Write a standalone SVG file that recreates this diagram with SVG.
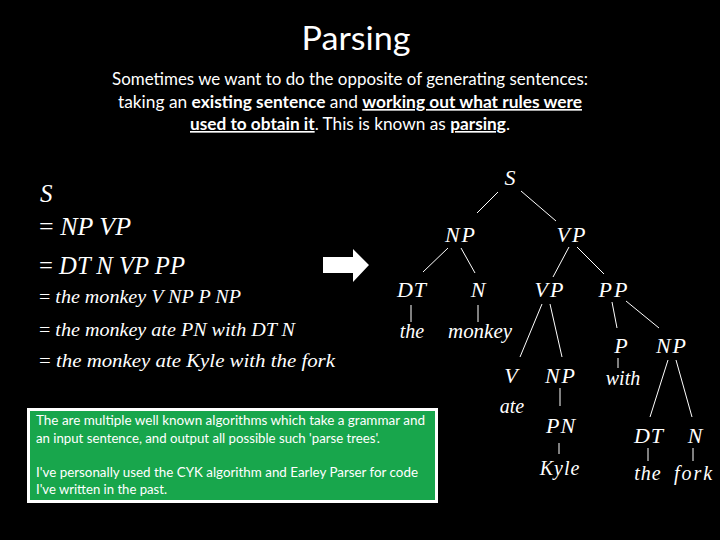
<svg xmlns="http://www.w3.org/2000/svg" width="720" height="540" viewBox="0 0 720 540">
<style>
.t{fill:#fff;font-family:Lato,"Open Sans","Liberation Sans",sans-serif}
.b{font-weight:bold}
.u{text-decoration:underline}
.m{fill:#fff;font-family:"Liberation Serif","DejaVu Serif",serif;font-style:italic}
.n{fill:#fff;font-family:"Liberation Serif","DejaVu Serif",serif;font-style:italic;font-size:22px;text-anchor:middle}
.w{fill:#fff;font-family:"Liberation Serif","DejaVu Serif",serif;font-style:italic;font-size:20px;text-anchor:middle}
.c line{stroke:#fff;stroke-width:1}
.g{fill:#fff;font-family:Lato,"Open Sans","Liberation Sans",sans-serif;font-size:12.5px}
</style>
<rect width="720" height="540" fill="#000"/>
<g id="title">
<text class="t" x="356" y="50" font-size="32" text-anchor="middle" textLength="109" lengthAdjust="spacingAndGlyphs">Parsing</text>
</g>
<g id="intro">
<text class="t" x="112" y="85" font-size="16.5" textLength="476" lengthAdjust="spacingAndGlyphs">Sometimes we want to do the opposite of generating sentences:</text>
<text class="t" x="118" y="108" font-size="16.5" textLength="464" lengthAdjust="spacingAndGlyphs" xml:space="preserve">taking an <tspan class="b">existing sentence</tspan> and <tspan class="b u">working out what rules were</tspan></text>
<text class="t" x="190" y="130" font-size="16.5" textLength="320" lengthAdjust="spacingAndGlyphs" xml:space="preserve"><tspan class="b u">used to obtain it</tspan>. This is known as <tspan class="b u">parsing</tspan>.</text>
</g>
<g id="derivation">
<text class="m" x="40" y="202" font-size="25">S</text>
<text class="m" x="39" y="235" font-size="25" textLength="92" lengthAdjust="spacingAndGlyphs" xml:space="preserve"><tspan font-style="normal">=</tspan> NP VP</text>
<text class="m" x="39" y="274" font-size="25" textLength="146" lengthAdjust="spacingAndGlyphs" xml:space="preserve"><tspan font-style="normal">=</tspan> DT N VP PP</text>
<text class="m" x="39" y="303" font-size="19" textLength="202" lengthAdjust="spacingAndGlyphs" xml:space="preserve"><tspan font-style="normal">=</tspan> the monkey V NP P NP</text>
<text class="m" x="39" y="336" font-size="19" textLength="256" lengthAdjust="spacingAndGlyphs" xml:space="preserve"><tspan font-style="normal">=</tspan> the monkey ate PN with DT N</text>
<text class="m" x="39" y="367" font-size="19" textLength="296" lengthAdjust="spacingAndGlyphs" xml:space="preserve"><tspan font-style="normal">=</tspan> the monkey ate Kyle with the fork</text>
</g>
<g id="arrow">
<polygon points="323,257 353,257 353,249 369,265 353,282 353,273 323,273" fill="#fff"/>
</g>
<g id="connectors" class="c">
<line x1="498" y1="192" x2="477" y2="213"/>
<line x1="521" y1="191" x2="556" y2="221"/>
<line x1="448" y1="248" x2="423" y2="272"/>
<line x1="461" y1="248" x2="475" y2="273"/>
<line x1="569" y1="247" x2="553" y2="277"/>
<line x1="577" y1="247" x2="604" y2="274"/>
<line x1="411" y1="305" x2="411" y2="322"/>
<line x1="478" y1="305" x2="478" y2="322"/>
<line x1="542" y1="304" x2="520" y2="357"/>
<line x1="550" y1="304" x2="562" y2="357"/>
<line x1="612" y1="302" x2="617" y2="328"/>
<line x1="626" y1="301" x2="659" y2="328"/>
<line x1="618" y1="358" x2="618" y2="368"/>
<line x1="560" y1="388" x2="560" y2="406"/>
<line x1="559" y1="443" x2="559" y2="454"/>
<line x1="668" y1="360" x2="650" y2="417"/>
<line x1="676" y1="360" x2="692" y2="417"/>
<line x1="648" y1="448" x2="648" y2="461"/>
<line x1="693" y1="448" x2="693" y2="461"/>
</g>
<g id="node-S"><text class="n" x="510" y="185">S</text></g>
<g id="node-NP1"><text class="n" x="461" y="242" letter-spacing="2">NP</text></g>
<g id="node-VP1"><text class="n" x="572" y="242" letter-spacing="2">VP</text></g>
<g id="node-DT1"><text class="n" x="412" y="297" letter-spacing="1">DT</text></g>
<g id="node-N1"><text class="n" x="478" y="297">N</text></g>
<g id="node-VP2"><text class="n" x="550" y="297" letter-spacing="2">VP</text></g>
<g id="node-PP"><text class="n" x="614" y="297" letter-spacing="2">PP</text></g>
<g id="leaf-the1"><text class="w" x="412" y="338">the</text></g>
<g id="leaf-monkey"><text class="w" x="480" y="338" textLength="64" lengthAdjust="spacingAndGlyphs">monkey</text></g>
<g id="node-P"><text class="n" x="621" y="353">P</text></g>
<g id="node-NP3"><text class="n" x="672" y="353" letter-spacing="2">NP</text></g>
<g id="node-V"><text class="n" x="511" y="383">V</text></g>
<g id="node-NP2"><text class="n" x="561" y="383" letter-spacing="2">NP</text></g>
<g id="leaf-with"><text class="w" x="623" y="385">with</text></g>
<g id="leaf-ate"><text class="w" x="512" y="413">ate</text></g>
<g id="node-PN"><text class="n" x="561" y="433" letter-spacing="1">PN</text></g>
<g id="node-DT2"><text class="n" x="649" y="443" letter-spacing="1">DT</text></g>
<g id="node-N2"><text class="n" x="695" y="443">N</text></g>
<g id="leaf-Kyle"><text class="w" x="560" y="475" letter-spacing="1">Kyle</text></g>
<g id="leaf-the2"><text class="w" x="648" y="480" letter-spacing="1">the</text></g>
<g id="leaf-fork"><text class="w" x="694" y="480" letter-spacing="2">fork</text></g>
<g id="note">
<rect x="28.5" y="409.5" width="408" height="92" fill="#18a64c" stroke="#fff" stroke-width="3"/>
<text class="g" x="36" y="425" textLength="389" lengthAdjust="spacingAndGlyphs">The are multiple well known algorithms which take a grammar and</text>
<text class="g" x="36" y="443" textLength="344" lengthAdjust="spacingAndGlyphs">an input sentence, and output all possible such 'parse trees'.</text>
<text class="g" x="36" y="477" textLength="382" lengthAdjust="spacingAndGlyphs">I've personally used the CYK algorithm and Earley Parser for code</text>
<text class="g" x="36" y="494" textLength="131" lengthAdjust="spacingAndGlyphs">I've written in the past.</text>
</g>
</svg>
